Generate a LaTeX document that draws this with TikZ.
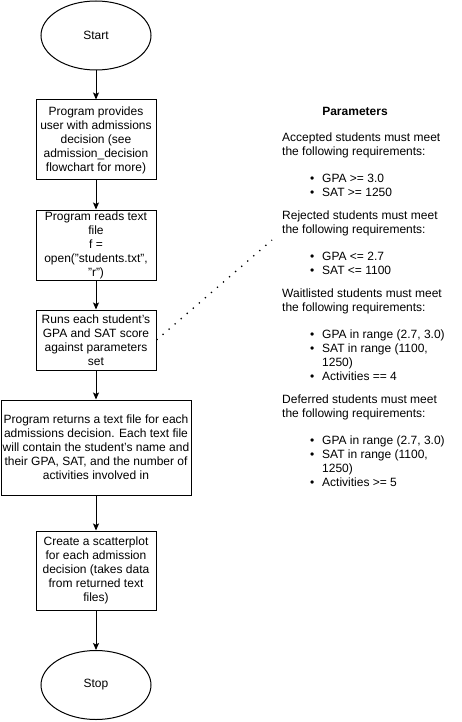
\documentclass[tikz,border=0pt]{standalone}
\usepackage{fontspec}
\setmainfont{Liberation Sans}
\usetikzlibrary{arrows.meta,shapes.geometric}
\begin{document}
\begin{tikzpicture}[x=1pt,y=-1pt,
  every node/.style={font=\fontsize{12}{14}\selectfont, inner sep=0pt},
  proc/.style={draw, line width=1pt, minimum width=120pt, align=center},
  term/.style={draw, ellipse, line width=1pt, minimum width=110pt, minimum height=69pt},
  flow/.style={line width=1pt, -{Stealth[length=7pt,width=6pt,inset=1.5pt]}},
  dots/.style={line width=1.3pt, dash pattern=on 1.3pt off 6.7pt},
  txt/.style={anchor=base west},
  bul/.style={anchor=base west}]
\fill[white] (0,0) rectangle (462,722);
\useasboundingbox (0,0) rectangle (462,722);

\node[term] (start) at (96,35.5) {Start};
\node[proc, minimum height=80pt] (b1) at (96,140) {Program provides\\user with admissions\\decision (see\\admission\_decision\\flowchart for more)};
\node[proc, minimum height=70pt] (b2) at (96,245) {Program reads text\\file\\f =\\open("students.txt",\\"r")};
\node[proc, minimum height=60pt] (b3) at (96,340) {Runs each student's\\GPA and SAT score\\against parameters\\set};
\node[proc, minimum width=190pt, minimum height=95pt] (b4) at (96,447.5) {Program returns a text file for each\\admissions decision. Each text file\\will contain the student's name and\\their GPA, SAT, and the number of\\activities involved in};
\node[proc, minimum height=79pt] (b5) at (96,570.5) {Create a scatterplot\\for each admission\\decision (takes data\\from returned text\\files)};
\node[term] (stop) at (96,685) {Stop};

\draw[flow] (start) -- (b1);
\draw[flow] (b1) -- (b2);
\draw[flow] (b2) -- (b3);
\draw[flow] (b3) -- (b4);
\draw[flow] (b4) -- (b5);
\draw[flow] (b5) -- (stop);

\coordinate (pe) at (272,240);
\draw[dots] (b3.east) -- (pe);

\node[anchor=base] (ptitle) at (355,116) {\textbf{Parameters}};
\node[txt] (a1) at (282,141.3) {Accepted students must meet};
\node[txt] (a2) at (282,155.3) {the following requirements:};
\node[bul] (ab1) at (310,182.3) {•};
\node[txt] (ai1) at (322,182.3) {GPA >= 3.0};
\node[bul] (ab2) at (310,196.3) {•};
\node[txt] (ai2) at (322,196.3) {SAT >= 1250};

\node[txt] (r1) at (282,219.3) {Rejected students must meet};
\node[txt] (r2) at (282,233.3) {the following requirements:};
\node[bul] (rb1) at (310,260.3) {•};
\node[txt] (ri1) at (322,260.3) {GPA <= 2.7};
\node[bul] (rb2) at (310,274.3) {•};
\node[txt] (ri2) at (322,274.3) {SAT <= 1100};

\node[txt] (w1) at (282,297.3) {Waitlisted students must meet};
\node[txt] (w2) at (282,311.3) {the following requirements:};
\node[bul] (wb1) at (310,338.3) {•};
\node[txt] (wi1) at (322,338.3) {GPA in range (2.7, 3.0)};
\node[bul] (wb2) at (310,352.3) {•};
\node[txt] (wi2) at (322,352.3) {SAT in range (1100,};
\node[txt] (wi2b) at (322,366.3) {1250)};
\node[bul] (wb3) at (310,380.3) {•};
\node[txt] (wi3) at (322,380.3) {Activities == 4};

\node[txt] (d1) at (282,403.3) {Deferred students must meet};
\node[txt] (d2) at (282,417.3) {the following requirements:};
\node[bul] (db1) at (310,444.3) {•};
\node[txt] (di1) at (322,444.3) {GPA in range (2.7, 3.0)};
\node[bul] (db2) at (310,458.3) {•};
\node[txt] (di2) at (322,458.3) {SAT in range (1100,};
\node[txt] (di2b) at (322,472.3) {1250)};
\node[bul] (db3) at (310,486.3) {•};
\node[txt] (di3) at (322,486.3) {Activities >= 5};
\end{tikzpicture}
\end{document}
